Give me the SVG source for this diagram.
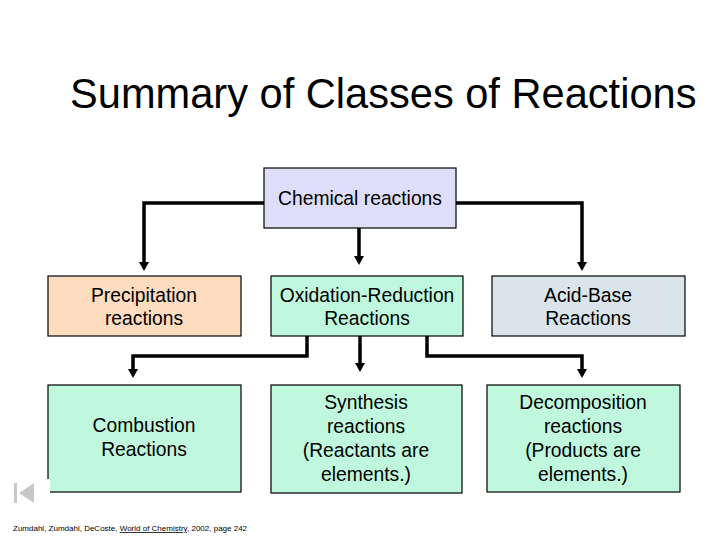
<svg xmlns="http://www.w3.org/2000/svg" width="720" height="540" viewBox="0 0 720 540">
<style>
text{font-family:"Liberation Sans",Arial,sans-serif;fill:#000}
.title{font-size:41.6px}
.lbl{font-size:19.3px;text-anchor:middle}
.box{stroke:#000;stroke-width:1.2}
.mint{fill:#C0F8DD}
.conn{fill:none;stroke:#000;stroke-width:3.5}
.foot{font-size:8px}
</style>
<rect width="720" height="540" fill="#fff"/>
<text class="title" x="70" y="108">Summary of Classes of Reactions</text>
<g id="connectors">
<path class="conn" d="M264,203 H144 V262"/>
<path class="conn" d="M456,203 H582 V262"/>
<path class="conn" d="M359,228 V256"/>
<path class="conn" d="M307,336 V356 H133 V370"/>
<path class="conn" d="M360,336 V363"/>
<path class="conn" d="M427,336 V356 H582 V370"/>
<g fill="#000">
<path d="M139,262 L149,262 L144,271 Z"/>
<path d="M577,262 L587,262 L582,271 Z"/>
<path d="M354,256 L364,256 L359,265 Z"/>
<path d="M128,369 L138,369 L133,378 Z"/>
<path d="M355,363 L365,363 L360,372 Z"/>
<path d="M577,369 L587,369 L582,378 Z"/>
</g>
</g>
<g id="chemical">
<rect class="box" x="264" y="168" width="192" height="60" fill="#DEDEFA"/>
<text class="lbl" x="360" y="205">Chemical reactions</text>
</g>
<g id="precipitation">
<rect class="box" x="48" y="276" width="193" height="60" fill="#FDDCBF"/>
<text class="lbl" x="144" y="302">Precipitation</text>
<text class="lbl" x="144" y="325">reactions</text>
</g>
<g id="redox">
<rect class="box mint" x="271" y="276" width="192" height="60"/>
<text class="lbl" x="367" y="302">Oxidation-Reduction</text>
<text class="lbl" x="367" y="325">Reactions</text>
</g>
<g id="acidbase">
<rect class="box" x="492" y="276" width="193" height="60" fill="#D9E5EA"/>
<text class="lbl" x="588" y="302">Acid-Base</text>
<text class="lbl" x="588" y="325">Reactions</text>
</g>
<g id="combustion">
<rect class="box mint" x="48" y="385" width="193" height="107"/>
<text class="lbl" x="144" y="432">Combustion</text>
<text class="lbl" x="144" y="456">Reactions</text>
</g>
<g id="synthesis">
<rect class="box mint" x="271" y="385" width="191" height="108"/>
<text class="lbl" x="366" y="409">Synthesis</text>
<text class="lbl" x="366" y="433">reactions</text>
<text class="lbl" x="366" y="457">(Reactants are</text>
<text class="lbl" x="366" y="481">elements.)</text>
</g>
<g id="decomposition">
<rect class="box mint" x="487" y="385" width="193" height="107"/>
<text class="lbl" x="583" y="409">Decomposition</text>
<text class="lbl" x="583" y="433">reactions</text>
<text class="lbl" x="583" y="457">(Products are</text>
<text class="lbl" x="583" y="481">elements.)</text>
</g>
<g id="nav-icon">
<rect x="40" y="479" width="10" height="16" fill="#fff"/>
<rect x="14" y="483" width="3" height="20" fill="#C8C8C8"/>
<path d="M34,483 L34,503 L19,493 Z" fill="#C8C8C8"/>
</g>
<text class="foot" x="13" y="531">Zumdahl, Zumdahl, DeCoste, <tspan text-decoration="underline">World of Chemistry</tspan>, 2002, page 242</text>
</svg>
